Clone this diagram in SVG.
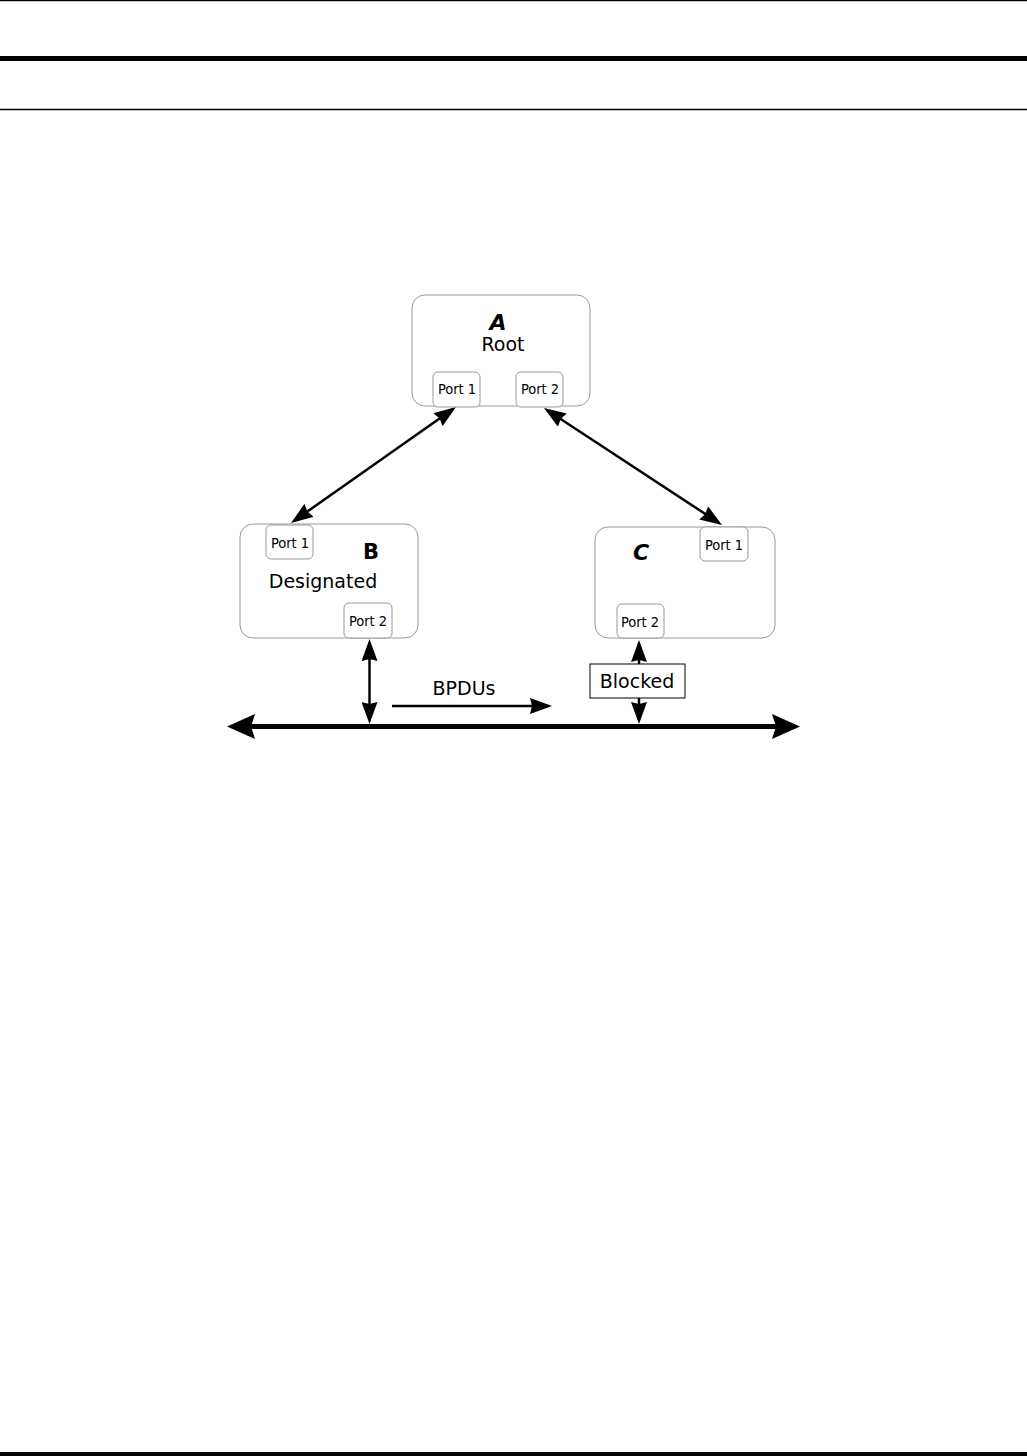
<svg xmlns="http://www.w3.org/2000/svg" width="1027" height="1456" viewBox="0 0 1027 1456">
<style>
.node{fill:#fff;stroke:#999;stroke-width:1}
.port{fill:#fff;stroke:#999;stroke-width:1}
.pt{font-family:"DejaVu Sans Condensed","DejaVu Sans",sans-serif;font-size:14.5px;fill:#000;text-anchor:middle}
.lbl{font-family:"DejaVu Sans","Noto Sans",sans-serif;font-size:19px;fill:#000;text-anchor:middle}
.big{font-family:"DejaVu Sans","Noto Sans",sans-serif;font-size:22px;fill:#000;text-anchor:middle;font-style:italic;font-weight:bold}
.ln{stroke:#000;fill:none}
</style>
<defs>
<marker id="ah" viewBox="0 0 22 16" refX="18" refY="8" markerWidth="22" markerHeight="16" markerUnits="userSpaceOnUse" orient="auto-start-reverse">
<path d="M0,0 L22,8 L0,16 L2,8 Z" fill="#000"/>
</marker>
<marker id="ahb" viewBox="0 0 28 25" refX="21" refY="12.5" markerWidth="28" markerHeight="25" markerUnits="userSpaceOnUse" orient="auto-start-reverse">
<path d="M0,0 L28,12.5 L0,25 L4,12.5 Z" fill="#000"/>
</marker>
</defs>
<rect width="1027" height="1456" fill="#fff"/>
<g id="page-rules">
<line x1="0" y1="0.5" x2="1027" y2="0.5" stroke="#000" stroke-width="1.5"/>
<line x1="0" y1="58.5" x2="1027" y2="58.5" stroke="#000" stroke-width="5"/>
<line x1="0" y1="109.5" x2="1027" y2="109.5" stroke="#000" stroke-width="1.5"/>
<line x1="0" y1="1454" x2="1027" y2="1454" stroke="#000" stroke-width="4"/>
</g>
<g id="connectors">
<line class="ln" x1="452.7" y1="409.3" x2="294.3" y2="520.7" stroke-width="2.5" marker-start="url(#ah)" marker-end="url(#ah)"/>
<line class="ln" x1="547.3" y1="410.2" x2="718.7" y2="522.8" stroke-width="2.5" marker-start="url(#ah)" marker-end="url(#ah)"/>
<line class="ln" x1="234" y1="726.5" x2="793" y2="726.5" stroke-width="5" marker-start="url(#ahb)" marker-end="url(#ahb)"/>
<line class="ln" x1="369.5" y1="643" x2="369.5" y2="720" stroke-width="2.5" marker-start="url(#ah)" marker-end="url(#ah)"/>
<line class="ln" x1="639" y1="644" x2="639" y2="720" stroke-width="2.5" marker-start="url(#ah)" marker-end="url(#ah)"/>
<line class="ln" x1="392" y1="706" x2="548" y2="706" stroke-width="2.5" marker-end="url(#ah)"/>
</g>
<g id="node-A">
<rect class="node" x="412" y="295" width="178" height="111" rx="13"/>
<text class="big" x="498" y="330">A</text>
<text class="lbl" x="503" y="351">Root</text>
<g id="A-port1"><rect class="port" x="433" y="372" width="47" height="35" rx="5"/><text class="pt" x="457" y="394">Port 1</text></g>
<g id="A-port2"><rect class="port" x="516" y="372" width="47" height="35" rx="5"/><text class="pt" x="540" y="394">Port 2</text></g>
</g>
<g id="node-B">
<rect class="node" x="240" y="524" width="178" height="114" rx="13"/>
<text class="lbl" x="371" y="559" style="font-size:21px;font-weight:bold">B</text>
<text class="lbl" x="323" y="588">Designated</text>
<g id="B-port1"><rect class="port" x="266" y="525" width="47" height="34" rx="5"/><text class="pt" x="290" y="548">Port 1</text></g>
<g id="B-port2"><rect class="port" x="344" y="603" width="48" height="35" rx="5"/><text class="pt" x="368" y="626">Port 2</text></g>
</g>
<g id="node-C">
<rect class="node" x="595" y="527" width="180" height="111" rx="13"/>
<text class="big" x="641" y="560">C</text>
<g id="C-port1"><rect class="port" x="700" y="527" width="48" height="34" rx="5"/><text class="pt" x="724" y="550">Port 1</text></g>
<g id="C-port2"><rect class="port" x="617" y="604" width="47" height="34" rx="5"/><text class="pt" x="640" y="627">Port 2</text></g>
</g>
<g id="bpdus">
<text class="lbl" x="464" y="695">BPDUs</text>
</g>
<g id="blocked">
<rect x="590" y="664" width="95" height="34" fill="#fff" stroke="#000" stroke-width="1"/>
<text class="lbl" x="637" y="688">Blocked</text>
</g>
</svg>
